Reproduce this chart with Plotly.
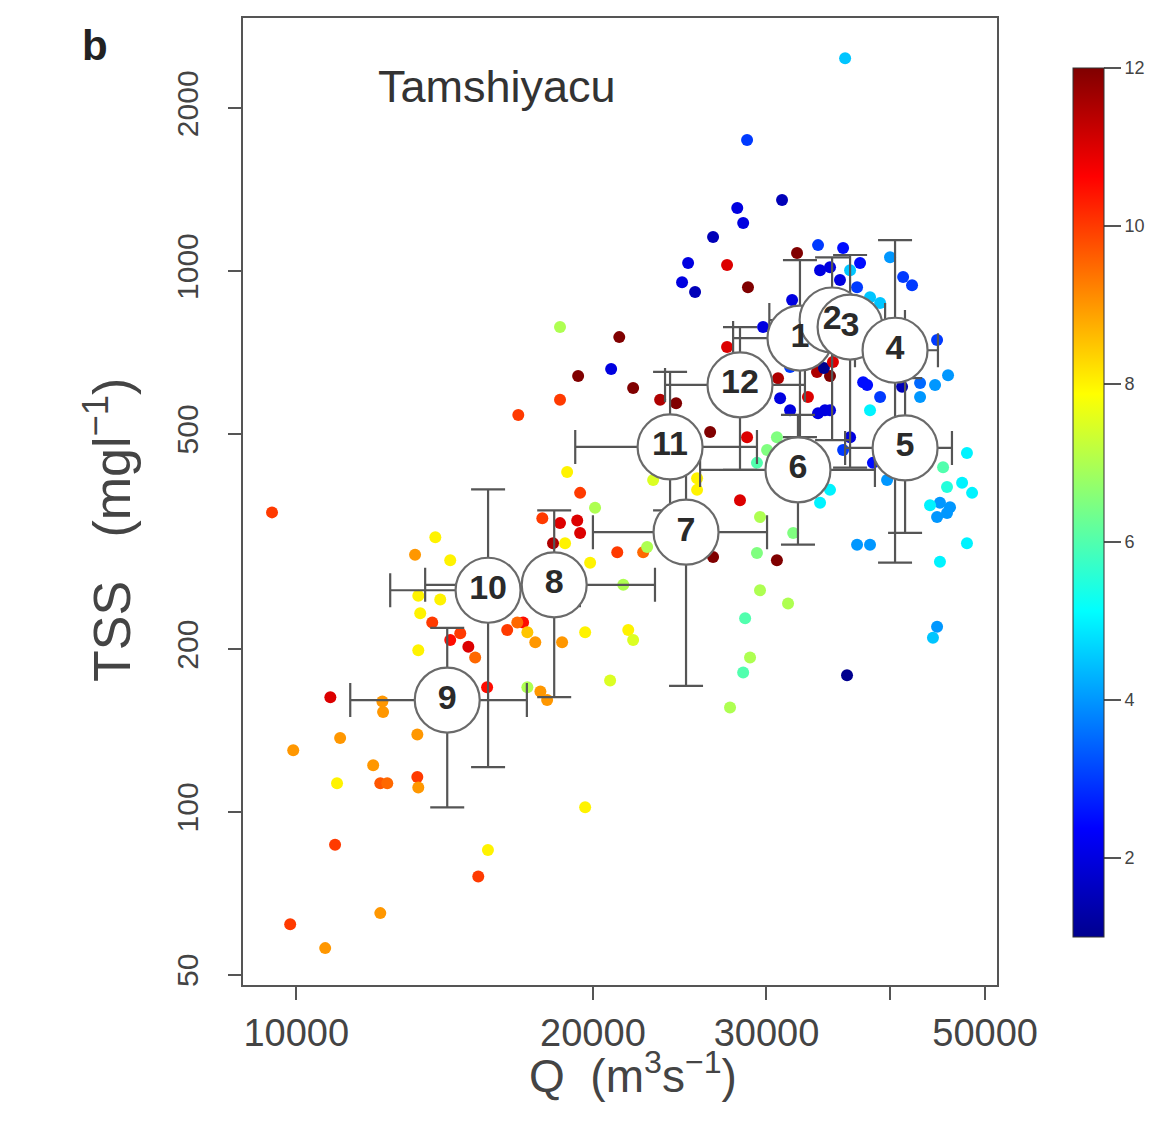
import plotly.graph_objects as go

# ---- individual samples: discharge Q (m3/s), TSS (mg/l), month (colour) ----
q_pts = [9450, 10830, 12230, 12250, 9930, 11080, 13270, 11970, 11000, 12170, 12370, 13270, 13300, 10950, 15650, 15300, 12170, 9860, 10700, 19640,
         20820, 17160, 17690, 17970, 15620, 13300, 13360, 13740, 14330, 14670, 14950, 15190, 16370, 16990, 17160, 17480, 18610, 19640, 21720, 21970,
         18520, 21270, 20870, 19320, 21970, 23400, 24290, 18520, 16800, 26300, 18830, 19410, 20100, 17770, 18520, 19280, 19410, 18220, 18740, 21170,
         22490, 13840, 13200, 14330, 19870, 21470, 14000, 16760, 13300, 24980, 24630, 25390, 27360, 28730, 31110, 28020, 28410, 26480, 28670, 36050,
         32220, 33840, 35880, 37330, 34000, 34800, 35620, 36470, 37070, 40040, 41280, 42150, 38210, 39120, 31850, 29760, 27360, 31700, 30820, 30970,
         31700, 33840, 34800, 33050, 33760, 34800, 34310, 35040, 37600, 39120, 41180, 42950, 44480, 45850, 44690, 38210, 42950, 36470, 38470, 30740,
         30040, 29340, 28670, 34800, 34000, 35880, 47380, 48500, 44990, 46060, 47920, 37070, 38210, 47920, 44990, 28200, 29550, 29340, 30740, 31930,
         26480, 29550, 31550, 28540, 28870, 28410, 27550, 36210, 44690, 44260, 45320, 45740, 43960, 44690, 45740, 39760, 34390, 37950, 25510, 25510,
         23020, 22700]
tss_pts = [358, 163, 160, 153, 130, 137, 139, 122, 113, 113, 113, 116, 111, 87, 85, 76, 65, 62, 56, 102,
           175, 170, 167, 161, 170, 199, 233, 224, 208, 214, 202, 193, 217, 224, 215, 206, 206, 215, 217, 208,
           788, 755, 659, 640, 608, 578, 570, 578, 542, 504, 425, 389, 365, 349, 342, 346, 328, 314, 314, 302,
           302, 322, 299, 292, 289, 263, 247, 224, 251, 1035, 954, 915, 1026, 934, 1353, 1308, 1227, 1156, 1747, 2476,
           1080, 1117, 1103, 1035, 1004, 1017, 963, 1004, 934, 1061, 975, 942, 895, 873, 884, 788, 724, 665, 634, 582,
           553, 546, 553, 585, 651, 640, 662, 679, 623, 585, 611, 621, 616, 642, 746, 553, 585, 493, 442, 493,
           467, 442, 493, 394, 373, 467, 406, 389, 373, 366, 461, 312, 312, 314, 290, 377, 351, 301, 292, 328,
           296, 257, 243, 228, 193, 181, 156, 179, 220, 210, 434, 399, 369, 351, 357, 411, 553, 616, 414, 394,
           411, 309]
month_pts = [10, 11, 9, 9, 9, 9, 9, 9, 8, 9.7, 9.5, 10, 9, 10, 8, 10, 9, 10, 9, 8,
             7.5, 7, 9, 9, 10.5, 8, 8, 10, 10.5, 10, 11, 9.5, 10, 10.5, 8.5, 9, 9, 8, 8, 7.5,
             7, 12, 2, 12, 12, 11.5, 12, 10, 10, 12, 8, 10, 7, 10, 11, 11, 11, 11.5, 8, 10,
             9.5, 8, 9, 8, 8, 7, 8, 9.5, 8, 2, 2, 1.5, 11, 12, 1.5, 2, 2, 1.5, 3, 4.5,
             12, 3, 2.5, 2.5, 2, 2, 2, 4.5, 3, 4, 3, 3, 4.5, 4.5, 2, 2, 11, 3, 11.5, 2,
             2, 2, 2, 11, 11.5, 12, 1, 11, 2.5, 3, 1.5, 3.5, 4, 4, 3, 5, 4, 2, 2.5, 6.5,
             6.5, 6, 11, 5, 5, 3, 5, 5, 4, 4, 5, 4, 4, 5, 5, 11, 7, 6.5, 12, 6.5,
             12, 7, 7, 6, 7, 6, 7, 1, 4, 4.5, 6, 5.5, 5, 4, 4, 4, 2, 2.5, 8, 8,
             7.5, 7]

# ---- monthly means with error bars ----
months = ["1", "2", "3", "4", "5", "6", "7", "8", "9", "10", "11", "12"]
q_mean = [32440, 34970, 36470, 40510, 41470, 32290, 24860, 18270, 14230, 15655, 23950, 28200]
q_low = [27750, 30200, 32070, 36890, 36050, 25690, 20000, 13515, 11345, 12455, 19190, 23670]
q_high = [38210, 39580, 41460, 44780, 46270, 38650, 30040, 23120, 17140, 19400, 29340, 32820]
tss_mean = [752, 812, 788, 714, 471, 429, 329, 263, 161, 257, 473, 616]
tss_low = [493, 487, 433, 289, 328, 312, 171, 163, 102, 121, 361, 429]
tss_high = [1048, 1060, 1071, 1141, 634, 542, 476, 361, 219, 395, 651, 788]

jet = [[0.0, "#00008F"], [0.125, "#0000FF"], [0.375, "#00FFFF"],
       [0.625, "#FFFF00"], [0.875, "#FF0000"], [1.0, "#800000"]]

FONT = "Liberation Sans, Arial, sans-serif"
# page offset of 8 px (default body margin) compensated in the figure size
W, H = 1168, 1114
L, R, T, B = 235, 179, 10, 137
PW, PH = W - L - R, H - T - B          # 754 x 967 plot area


def px(xp):   # reference page x -> paper
    return (xp - 243) / PW


def py(yp):   # reference page y -> paper
    return (985 - yp) / PH


fig = go.Figure()

fig.add_trace(go.Scatter(
    x=q_pts, y=tss_pts, mode="markers",
    marker=dict(size=12, color=month_pts, colorscale=jet, cmin=1, cmax=12,
                line=dict(width=0),
                showscale=True,
                colorbar=dict(
                    thickness=31, thicknessmode="pixels",
                    len=869, lenmode="pixels",
                    x=px(1073), xanchor="left",
                    y=py(68), yanchor="top",
                    xpad=0, ypad=0,
                    tickvals=[2, 4, 6, 8, 10, 12],
                    ticks="outside", ticklen=17, tickwidth=2, tickcolor="#555",
                    tickfont=dict(size=18, color="#444", family=FONT),
                    outlinewidth=1, outlinecolor="#333",
                )),
    showlegend=False, hoverinfo="skip",
))

fig.add_trace(go.Scatter(
    x=q_mean, y=tss_mean, mode="markers+text", text=months,
    textposition="middle center",
    textfont=dict(size=34, color="#2a2a2a", family=FONT, weight="bold"),
    marker=dict(size=65, color="white", line=dict(color="#6a6a6a", width=2.2)),
    error_x=dict(type="data", symmetric=False,
                 array=[h - m for h, m in zip(q_high, q_mean)],
                 arrayminus=[m - l for m, l in zip(q_mean, q_low)],
                 color="#555", thickness=2.2, width=17),
    error_y=dict(type="data", symmetric=False,
                 array=[h - m for h, m in zip(tss_high, tss_mean)],
                 arrayminus=[m - l for m, l in zip(tss_mean, tss_low)],
                 color="#555", thickness=2.2, width=17),
    showlegend=False, hoverinfo="skip",
))

axis_common = dict(showgrid=False, zeroline=False, showline=True, mirror=True,
                   linecolor="#555", linewidth=2, ticks="outside", ticklen=13,
                   tickwidth=2, tickcolor="#555")

fig.update_xaxes(type="log", range=[3.946, 4.711],
                 tickvals=[10000, 20000, 30000, 40000, 50000],
                 ticktext=["10000", "20000", "30000", "", "50000"],
                 tickfont=dict(size=38, color="#444", family=FONT),
                 **axis_common)
fig.update_yaxes(type="log", range=[1.680, 3.468],
                 tickvals=[50, 100, 200, 500, 1000, 2000],
                 ticktext=["50", "100", "200", "500", "1000", "2000"],
                 tickangle=-90, ticklabelstandoff=18,
                 tickfont=dict(size=30, color="#444", family=FONT),
                 **axis_common)

# axis titles
fig.add_annotation(text="Q&nbsp;&nbsp;(m<sup>3</sup>s<sup>\u22121</sup>)",
                   xref="paper", yref="paper", x=px(633), y=py(1073),
                   showarrow=False, xanchor="center", yanchor="middle",
                   font=dict(size=46, color="#444", family=FONT))
fig.add_annotation(text="TSS&nbsp;&nbsp;&nbsp;(mgl<sup>\u22121</sup>)",
                   xref="paper", yref="paper", x=px(108), y=py(530),
                   textangle=-90,
                   showarrow=False, xanchor="center", yanchor="middle",
                   font=dict(size=52, color="#444", family=FONT))

fig.add_annotation(text="Tamshiyacu", xref="paper", yref="paper",
                   x=px(497), y=py(87),
                   showarrow=False, xanchor="center", yanchor="middle",
                   font=dict(size=45, color="#333", family=FONT))
fig.add_annotation(text="<b>b</b>", xref="paper", yref="paper",
                   x=px(95), y=py(45),
                   showarrow=False, xanchor="center", yanchor="middle",
                   font=dict(size=42, color="#222", family=FONT))

fig.update_layout(width=W, height=H, margin=dict(l=L, r=R, t=T, b=B, autoexpand=False),
                  paper_bgcolor="white", plot_bgcolor="white")

fig.write_html("out.html")
